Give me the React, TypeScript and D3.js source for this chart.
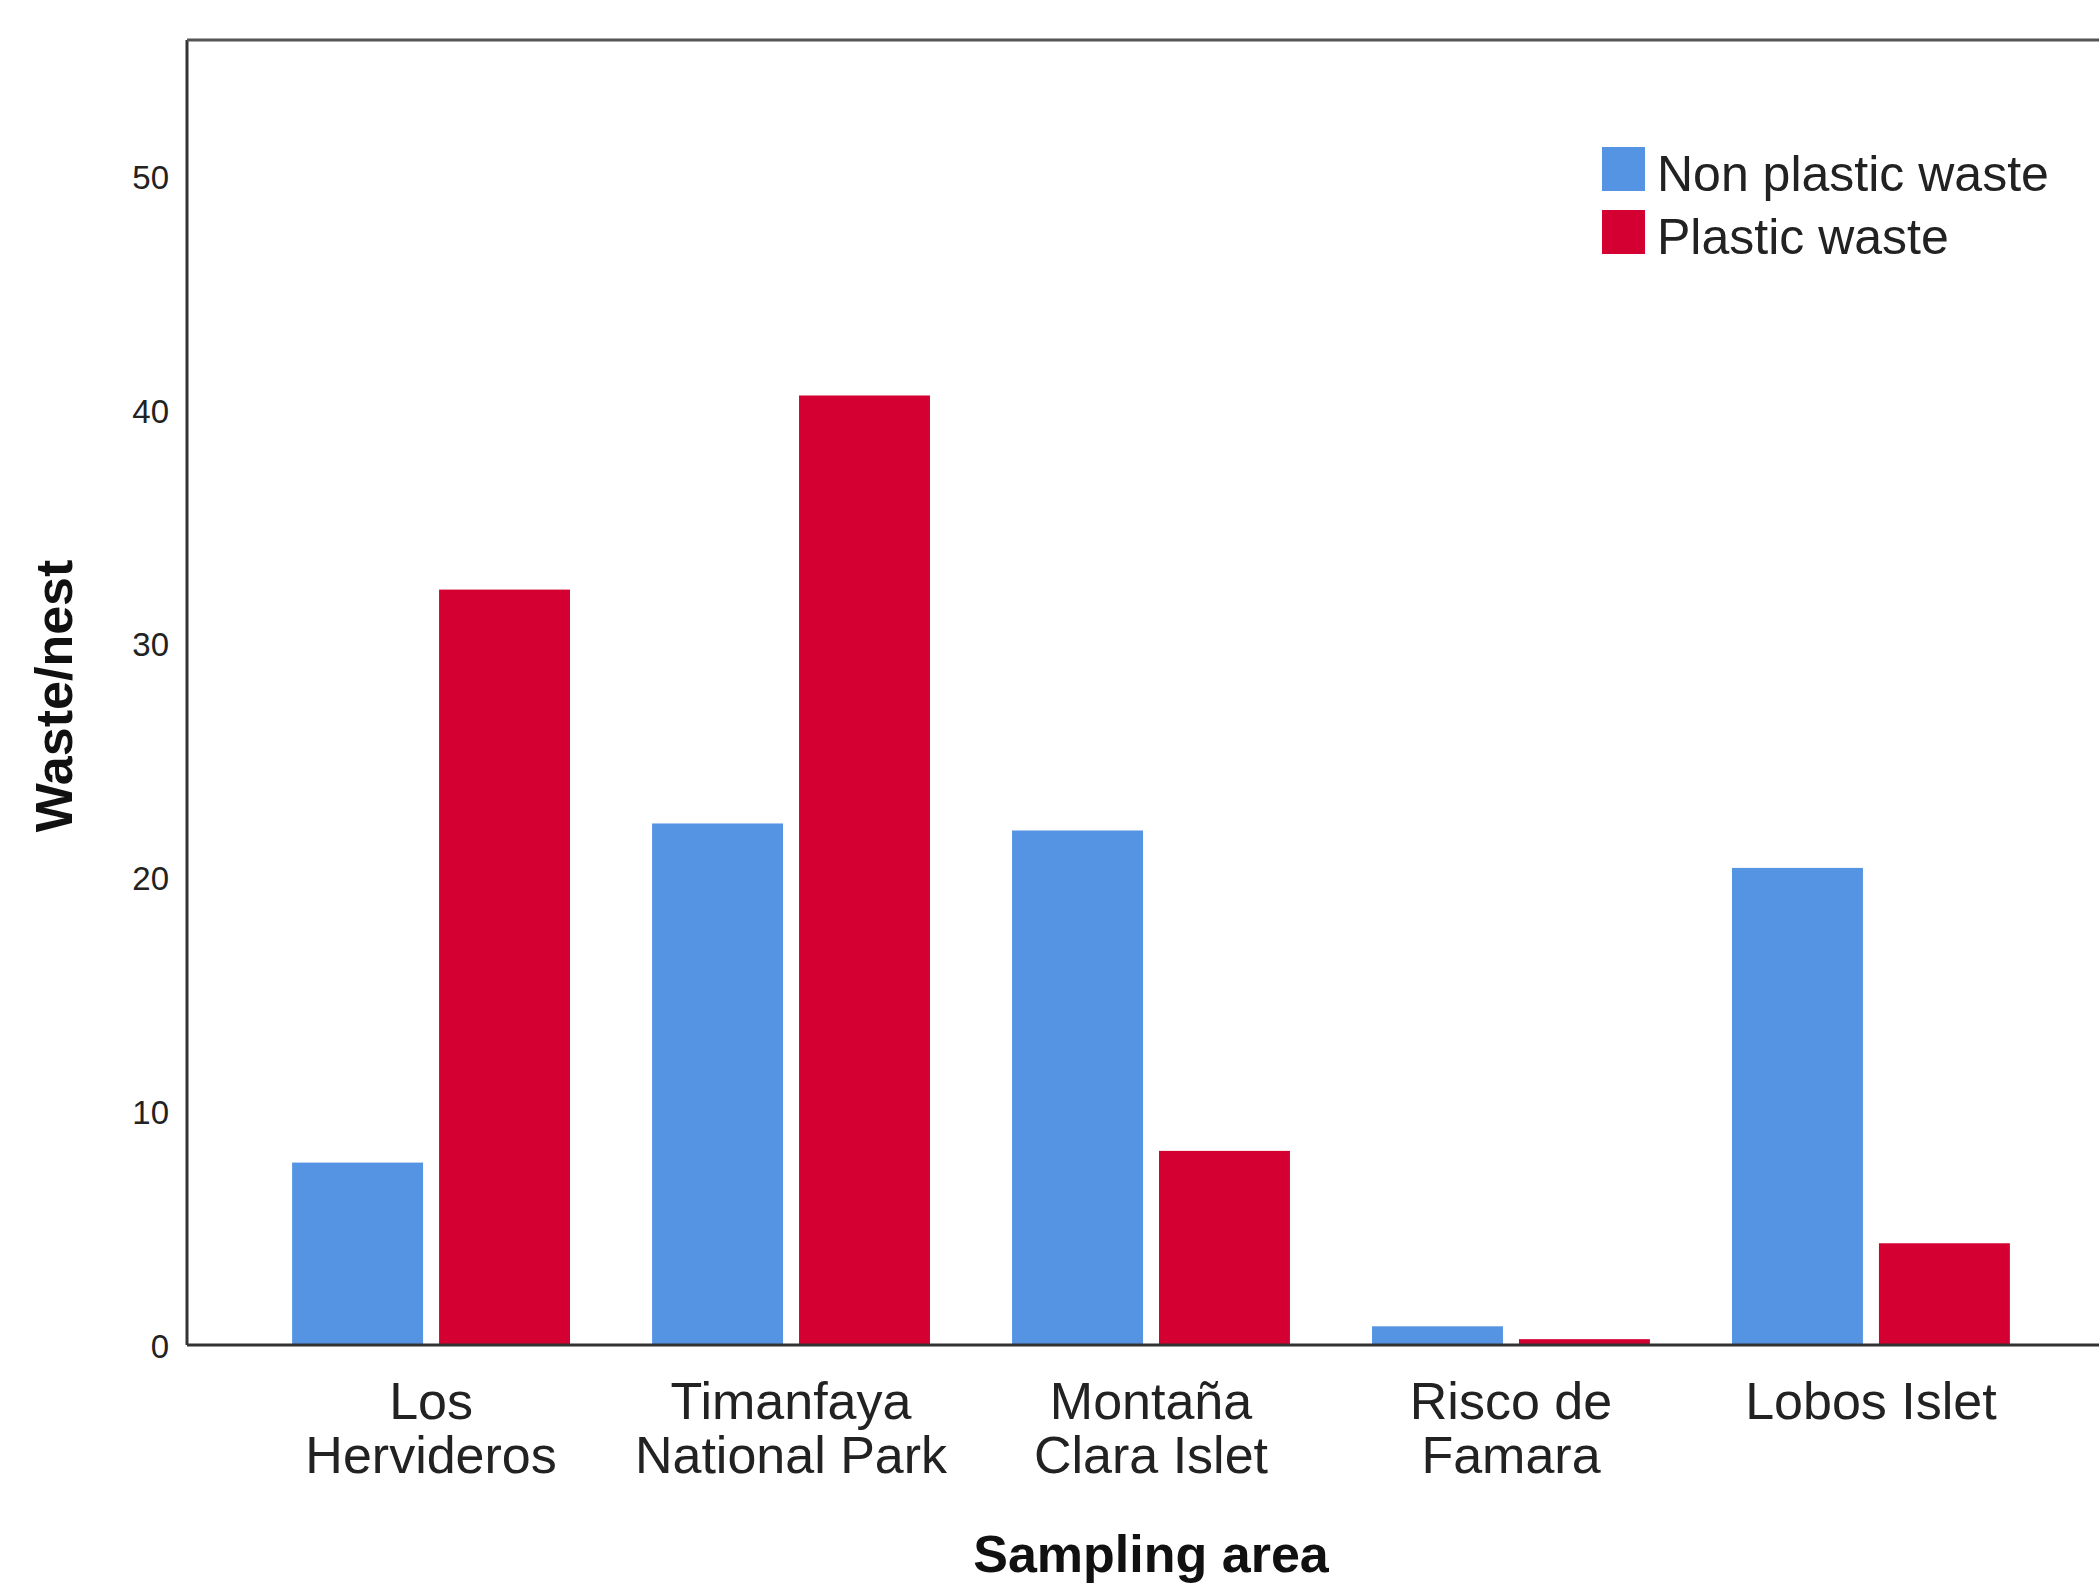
import * as d3 from "d3";
import React from "react";

const categories = [
  ["Los", "Hervideros"],
  ["Timanfaya", "National Park"],
  ["Montaña", "Clara Islet"],
  ["Risco de", "Famara"],
  ["Lobos Islet"],
];
const series = ["Non plastic waste", "Plastic waste"];
const nonPlastic = [7.8, 22.3, 22.0, 0.8, 20.4];
const plastic = [32.3, 40.6, 8.3, 0.25, 4.35];
const yTicks = [0, 10, 20, 30, 40, 50];
const colors = ["#5594e3", "#d50032"];

const W = 2099;
const H = 1587;
const m = { l: 187, r: 2115, t: 40, b: 1345 };
const font = "Arial, 'Liberation Sans', sans-serif";

const App: React.FC = () => {
  const keys = categories.map((c) => c.join(" "));
  const x = d3.scaleBand<string>().domain(keys).range([m.l, m.r]).paddingInner(0.228).paddingOuter(0.292);
  const xs = d3.scaleBand<string>().domain(series).range([0, x.bandwidth()]).paddingInner(0.109);
  const y = d3.scaleLinear().domain([0, 55.8]).range([m.b, m.t]);
  const values = [nonPlastic, plastic];

  return (
    <svg width={W} height={H} style={{ position: "absolute", left: 0, top: 0, background: "#fff" }} fontFamily={font}>
      <rect x={0} y={0} width={W} height={H} fill="#fff" />
      {keys.map((k, i) =>
        series.map((s, j) => (
          <rect
            key={k + s}
            x={(x(k) || 0) + (xs(s) || 0)}
            width={xs.bandwidth()}
            y={y(values[j][i])}
            height={m.b - y(values[j][i])}
            fill={colors[j]}
          />
        ))
      )}
      {/* frame, the right side falls outside the picture */}
      <line x1={m.l} x2={m.l} y1={m.t} y2={m.b} stroke="#333" strokeWidth={3} />
      <line x1={m.l} x2={m.r} y1={m.t} y2={m.t} stroke="#555" strokeWidth={3} />
      <line x1={m.l} x2={m.r} y1={m.b} y2={m.b} stroke="#333" strokeWidth={3} />
      <line x1={m.r} x2={m.r} y1={m.t} y2={m.b} stroke="#333" strokeWidth={3} />
      {yTicks.map((t) => (
        <text key={t} x={169} y={y(t) + 13} textAnchor="end" fontSize={33} fill="#222">
          {t}
        </text>
      ))}
      {categories.map((c, i) => (
        <text key={i} textAnchor="middle" fontSize={52} fill="#222">
          {c.map((line, li) => (
            <tspan key={li} x={(x(keys[i]) || 0) + x.bandwidth() / 2} y={1419 + li * 54}>
              {line}
            </tspan>
          ))}
        </text>
      ))}
      <text transform={`translate(72, 696) rotate(-90)`} textAnchor="middle" fontSize={52} fontWeight="bold" fill="#111">
        Waste/nest
      </text>
      <text x={(m.l + m.r) / 2} y={1572} textAnchor="middle" fontSize={52} fontWeight="bold" fill="#111">
        Sampling area
      </text>
      {series.map((s, j) => (
        <g key={s} transform={`translate(1602, ${147 + j * 63})`}>
          <rect width={43} height={44} fill={colors[j]} />
          <text x={55} y={44} fontSize={50} fill="#222">
            {s}
          </text>
        </g>
      ))}
    </svg>
  );
};

export default App;
